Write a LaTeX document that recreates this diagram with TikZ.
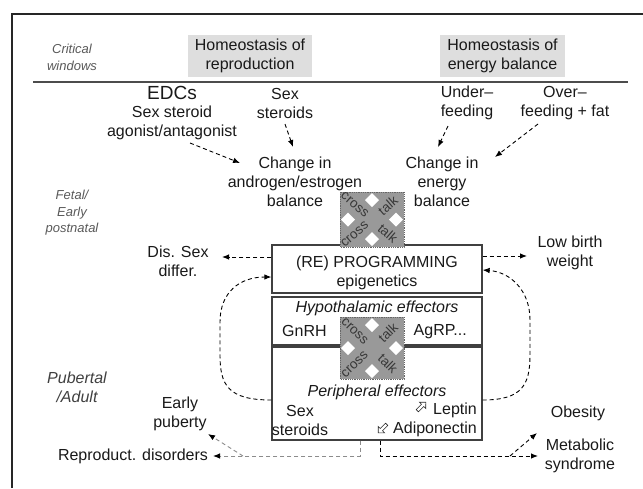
\documentclass[tikz,border=0pt]{standalone}
\usepackage{fontspec}
\setmainfont{Liberation Sans}
\usetikzlibrary{arrows.meta,shapes.arrows}
\tikzset{
  pics/crosstalk/.style 2 args={code={
    \fill[black!40] (-#1/2,-#2/2) rectangle (#1/2,#2/2);
    \draw[black!60,line width=0.8pt,densely dotted] (-#1/2,-#2/2) rectangle (#1/2,#2/2);
    \foreach \px/\py in {0/-1,0/1,-1/0,1/0} {
      \fill[white] ({\px*(#1/2-8)},{\py*(#2/2-8)}) ++(-7,0) -- ++(7,-7) -- ++(7,7) -- ++(-7,7) -- cycle;
    }
    \node[ctxt,rotate={atan2(#2,#1)}] (-c1) at ({-0.27*#1},{0.27*#2}) {cross};
    \node[ctxt,rotate={atan2(#2,#1)}] (-t1) at ({0.25*#1},{-0.25*#2}) {talk};
    \node[ctxt,rotate={-atan2(#2,#1)}] (-c2) at ({-0.27*#1},{-0.27*#2}) {cross};
    \node[ctxt,rotate={-atan2(#2,#1)}] (-t2) at ({0.25*#1},{0.25*#2}) {talk};
  }}
}
\begin{document}
\begin{tikzpicture}[x=1pt,y=-1pt,
  txt/.style={inner sep=0pt,align=center,text=black!90,font=\fontsize{16}{19}\selectfont},
  itxt/.style={inner sep=0pt,align=center,text=black!90,font=\fontsize{16}{19}\selectfont\itshape},
  itx/.style={inner sep=0pt,align=center,text=black!65,font=\fontsize{13}{16.5}\selectfont\itshape},
  ctxt/.style={inner sep=0pt,text=black!78,font=\fontsize{13.5}{14}\selectfont},
  hbox/.style={fill=black!13,inner sep=0pt,minimum width=124pt,minimum height=42pt,align=center,text=black!90,font=\fontsize{16}{18.5}\selectfont},
  panel/.style={draw=black!75,line width=1.3pt,minimum width=210pt,inner sep=0pt},
  arr/.style={draw=black,line width=0.9pt,dash pattern=on 4pt off 3pt,-{Latex[length=7pt,width=5.5pt]}},
  garr/.style={draw=black!45,line width=0.9pt,dash pattern=on 4pt off 3pt,-{Latex[length=7pt,width=5.5pt,color=black]}},
  sym/.style={single arrow,draw=black!85,line width=0.6pt,minimum height=12pt,minimum width=9pt,single arrow head extend=1.5pt,inner sep=0.5pt}
]
\useasboundingbox (0,0) rectangle (643,488);
\draw[line width=2pt,black!85] (12,488) -- (12,14) -- (643,14);

% headings
\node[itx] (cw) at (72,57.5) {Critical\\windows};
\node[hbox] (hrep) at (250,56) {Homeostasis of\\reproduction};
\node[hbox,minimum width=125pt] (hen) at (502.5,56) {Homeostasis of\\energy balance};
\draw[black!70,line width=1.3pt] (33,82) -- (628,82);

% upper texts
\node[txt,font=\fontsize{19}{22}\selectfont] (edc) at (172,93) {EDCs};
\node[txt] (sexst) at (172,122.5) {Sex steroid\\agonist/antagonist};
\node[txt] (ss) at (285,103) {Sex\\steroids};
\node[txt] (chA) at (295,181.5) {Change in\\androgen/estrogen\\balance};
\node[txt] (under) at (467,103) {Under--\\feeding};
\node[txt] (over) at (565,103) {Over--\\feeding + fat};
\node[txt] (chE) at (442,181.5) {Change in\\energy\\balance};
\node[itx] (fetal) at (72,213) {Fetal/\\Early\\postnatal};

% panels
\node[panel,minimum height=48pt] (prog) at (377,269) {};
\node[panel,minimum height=48pt] (hypo) at (377,321) {};
\node[panel,minimum height=93pt] (peri) at (377,393.5) {};

\node[txt] (progt) at (377,273) {(RE) PROGRAMMING\\epigenetics};
\node[itxt] (hypot) at (377,308) {Hypothalamic effectors};
\node[txt,anchor=west] (gnrh) at (282,331) {GnRH};
\node[txt,anchor=east] (agrp) at (467,332) {AgRP...};
\node[itxt] (perit) at (377,392) {Peripheral effectors};
\node[txt] (sst) at (300,420) {Sex\\steroids};
\node[txt,anchor=east] (lep) at (477,410) {Leptin};
\node[txt,anchor=east] (adi) at (477,429) {Adiponectin};
\node[sym,rotate=45] (lsym) at (421,407) {};
\node[sym,rotate=225] (asym) at (383,428) {};

% cross talk
\pic (ct1) at (372,219.5) {crosstalk={64}{55}};
\pic (ct2) at (372,348) {crosstalk={64}{62}};

% side texts
\node[txt] (dis) at (178,261.5) {Dis. Sex\\differ.};
\node[txt] (lbw) at (570,253) {Low birth\\weight};
\node[itxt,text=black!75] (pub) at (77,387.5) {Pubertal\\/Adult};
\node[txt] (ep) at (180,413.5) {Early\\puberty};
\node[txt] (rd) at (133,456) {Reproduct. disorders};
\node[txt] (ob) at (578,413) {Obesity};
\node[txt] (ms) at (580,455.5) {Metabolic\\syndrome};

% connectors
\draw[arr] ([shift={(18,20.5)}]sexst.center) -- ([shift={(-55,-18.5)}]chA.center);
\draw[arr] ([shift={(0,21)}]ss.center) -- ([shift={(-2,-34.5)}]chA.center);
\draw[arr] ([shift={(-19,23)}]under.center) -- ([shift={(-4,-34.5)}]chE.center);
\draw[arr] ([shift={(-27,21)}]over.center) -- ([shift={(53,-24.5)}]chE.center);
\draw[arr] ([shift={(0,-12)}]prog.west) -- ([shift={(44,-4.5)}]dis.center);
\draw[arr] ([shift={(0,-13)}]prog.east) -- ([shift={(-43,3)}]lbw.center);
\draw[arr] ([shift={(0,6.5)}]peri.west) .. controls (228,400) and (220,385) .. (220,355)
   -- (220,322) .. controls (220,292) and (240,277) .. ([shift={(0,8)}]prog.west);
\draw[arr] ([shift={(0,6.5)}]peri.east) .. controls (522,400) and (530,385) .. (530,355)
   -- (530,320) .. controls (530,290) and (510,272) .. ([shift={(0,1)}]prog.east);
\draw[garr] ([shift={(-17,0)}]peri.south) |- ([shift={(80,0)}]rd.center);
\draw[garr] ([shift={(110,0)}]rd.center) -- ([shift={(28,20.5)}]ep.center);
\draw[arr] ([shift={(3,0)}]peri.south) |- ([shift={(-42,0.5)}]ms.center);
\draw[arr] ([shift={(-70,0.5)}]ms.center) -- ([shift={(-41,20)}]ob.center);
\end{tikzpicture}
\end{document}
